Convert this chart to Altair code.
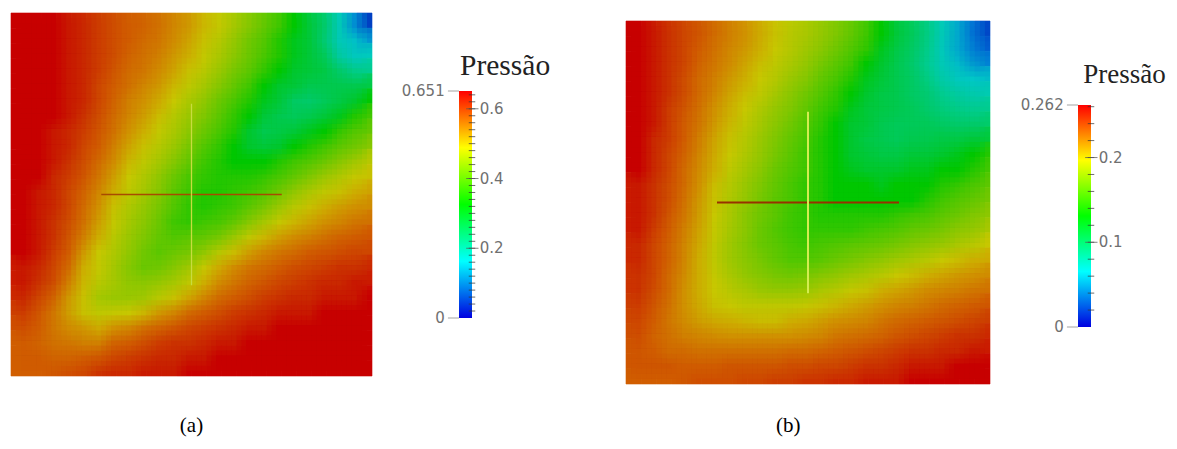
import altair as alt
import pandas as pd

title_text = "Pressão"
max_a = 0.651
max_b = 0.262
labels_a = [0.2, 0.4, 0.6]
labels_b = [0.1, 0.2]

# pressure, as percent of the panel's maximum, row by row from the top
grid_a = [
[100,100,100,99,98,96,94,92,91,89,86,83,78,74,68,62,57,53,50,47,42,30,16,5],
[100,100,100,99,98,96,94,92,90,88,85,81,76,71,65,59,55,51,49,47,41,30,24,17],
[100,100,100,99,98,96,94,91,89,87,83,79,74,69,63,58,54,51,49,47,44,34,28,28],
[100,100,100,99,98,96,93,90,88,85,81,76,72,66,60,56,52,50,48,47,46,42,38,37],
[100,100,100,99,98,95,92,89,86,83,78,73,68,62,57,53,50,48,47,45,45,45,45,46],
[100,100,100,99,98,95,91,87,84,80,75,69,64,58,54,51,49,47,43,42,44,46,48,50],
[100,100,100,99,97,94,90,86,82,77,71,66,61,56,52,50,47,45,44,45,47,49,51,53],
[100,100,99,98,96,93,89,84,79,74,69,63,58,54,51,48,45,46,47,49,50,52,55,57],
[100,100,99,98,95,92,87,81,76,71,66,60,55,52,50,48,47,48,50,51,53,56,59,62],
[100,100,99,97,94,90,85,78,73,68,62,57,53,51,50,50,50,51,53,55,58,62,67,71],
[100,100,98,96,93,88,82,75,70,64,58,54,52,51,51,51,52,54,57,61,66,70,74,76],
[100,99,98,95,91,86,79,73,68,62,56,53,51,51,52,53,55,59,64,69,73,76,79,81],
[100,99,98,95,90,84,76,70,65,60,55,52,51,52,53,56,60,66,72,76,79,82,84,85],
[100,99,97,94,89,82,74,68,63,58,53,52,53,54,57,62,68,74,78,81,84,86,88,89],
[100,99,97,93,87,79,72,66,61,57,55,56,57,60,66,73,78,82,85,87,89,91,92,93],
[100,99,96,92,83,75,70,64,59,56,58,60,64,71,77,82,86,88,90,92,93,94,95,95],
[99,98,95,90,79,74,68,62,58,59,62,67,74,80,85,88,90,92,94,95,96,97,97,98],
[99,97,94,87,78,72,68,64,63,65,68,73,79,85,88,91,93,95,96,97,98,98,99,99],
[98,95,91,83,76,68,66,66,67,72,76,81,86,90,92,94,96,97,98,98,99,99,99,100],
[96,93,88,82,76,73,74,75,78,83,86,90,92,94,96,97,98,99,99,99,100,100,100,100],
[94,92,88,85,83,80,84,86,89,91,93,95,96,97,98,99,99,100,100,100,100,100,100,100],
[92,91,89,88,87,87,91,92,94,96,97,97,98,99,99,100,100,100,100,100,100,100,100,100],
[92,92,91,91,92,93,95,96,97,98,98,99,99,100,100,100,100,100,100,100,100,100,100,100],
[92,92,93,94,95,97,98,98,99,99,99,100,100,100,100,100,100,100,100,100,100,100,100,100],
]
grid_b = [
[100,99,97,95,93,90,87,84,80,76,72,69,65,61,57,53,50,47,44,39,30,20,12,6],
[100,99,97,95,92,89,86,83,79,75,71,67,63,59,55,52,49,46,43,38,29,20,14,9],
[100,99,97,95,91,88,85,81,77,73,69,65,60,56,53,50,48,45,42,37,30,23,18,14],
[100,99,97,94,90,87,83,79,75,71,66,62,57,54,51,49,47,45,43,39,33,28,25,23],
[100,99,97,94,90,86,81,77,73,68,63,59,55,52,50,48,46,45,43,41,37,34,32,31],
[100,99,96,93,89,84,79,75,70,65,61,57,53,51,49,47,46,45,44,42,40,38,37,37],
[100,99,96,92,88,83,78,73,68,63,59,55,52,50,48,47,45,44,44,44,43,42,42,42],
[100,98,96,92,87,81,76,71,66,61,57,54,51,50,48,46,45,44,45,45,46,46,47,47],
[100,98,95,91,86,80,75,70,65,60,56,53,51,50,48,47,46,46,47,47,48,49,50,51],
[100,98,95,90,85,79,73,68,63,58,55,53,51,50,49,48,48,48,49,49,50,50,51,53],
[99,97,94,90,84,77,71,66,61,57,54,52,51,50,50,50,49,50,50,50,51,52,54,56],
[99,97,94,89,83,76,70,65,60,56,54,52,51,50,50,50,50,50,50,51,53,55,57,59],
[99,97,93,88,82,75,69,63,59,56,53,52,51,51,51,51,51,52,53,54,56,58,61,63],
[99,96,92,87,81,74,68,63,58,55,53,52,52,52,52,53,54,55,57,58,60,63,65,68],
[98,95,91,86,80,73,67,62,58,56,54,53,54,55,56,57,58,60,62,64,66,69,72,75],
[98,95,91,86,79,73,67,63,60,57,55,55,56,58,60,62,64,67,69,72,75,77,79,80],
[97,95,90,85,79,74,69,65,62,60,59,60,62,64,67,69,72,75,77,79,81,83,84,85],
[97,94,90,84,79,75,72,69,66,65,65,66,69,71,74,76,79,81,83,85,86,87,88,89],
[96,93,89,84,80,76,75,73,73,73,73,74,76,78,80,82,84,86,87,88,90,91,92,93],
[95,92,88,85,82,80,79,78,77,77,79,80,82,84,85,86,88,90,91,92,93,94,95,96],
[94,91,89,87,86,85,84,84,84,84,84,85,86,88,89,90,91,93,94,95,96,97,97,98],
[93,92,90,90,89,89,89,89,89,89,90,90,91,92,93,94,95,96,97,97,98,98,99,99],
[93,93,93,92,92,92,93,93,93,93,94,94,95,95,96,97,97,98,99,99,99,100,100,100],
[92,92,92,93,94,94,94,95,95,96,96,97,97,98,98,99,99,99,100,100,100,100,100,100],
]

MAP_COLORS = ["#0000a0", "#00c8c8", "#00c800", "#c8c800", "#c80000"]
BAR_STOPS = ["#0000e0", "#00ffff", "#00ff00", "#ffff00", "#ff0000"]
N = 24
SHIFTS = [0, 1 / 3, 2 / 3]  # the cells are redrawn with these shifts and fading opacity, which softens the mosaic


def cells(grid, top, dx, dy):
    rows = []
    for j, row in enumerate(grid):
        for i, v in enumerate(row):
            if dx and i == N - 1:
                continue
            if dy and j == N - 1:
                continue
            rows.append(dict(x=i + dx, x2=i + 1 + dx, y=j + dy, y2=j + 1 + dy, p=v * top / 100))
    return pd.DataFrame(rows)


def panel(grid, top, xr, yr, caption, cap_x, cap_y, line_w, h_color, v_color):
    xs = alt.Scale(domain=[0, N], range=xr)
    ys = alt.Scale(domain=[0, N], range=yr)
    cs = alt.Scale(domain=[i * top / 4 for i in range(5)], range=MAP_COLORS)
    out = []
    k = 0
    for dy in SHIFTS:
        for dx in SHIFTS:
            k += 1
            op = 1 / k
            mark = alt.Chart(cells(grid, top, dx, dy)).mark_rect(opacity=op, strokeWidth=0.6 if k == 1 else 0)
            enc = dict(
                x=alt.X("x:Q", scale=xs, axis=None), x2="x2:Q",
                y=alt.Y("y:Q", scale=ys, axis=None), y2="y2:Q",
                color=alt.Color("p:Q", scale=cs, legend=None),
            )
            if k == 1:
                enc["stroke"] = alt.Stroke("p:Q", scale=cs, legend=None)
            out.append(mark.encode(**enc))
    cross = pd.DataFrame([dict(a=6, b=18, c=12)])
    out.append(alt.Chart(cross).mark_rule(color=h_color, strokeWidth=line_w).encode(
        x=alt.X("a:Q", scale=xs, axis=None), x2="b:Q", y=alt.Y("c:Q", scale=ys, axis=None)))
    out.append(alt.Chart(cross).mark_rule(color=v_color, strokeWidth=line_w).encode(
        y=alt.Y("a:Q", scale=ys, axis=None), y2="b:Q", x=alt.X("c:Q", scale=xs, axis=None)))
    out.append(alt.Chart(pd.DataFrame([dict(t=caption, x=cap_x, y=cap_y)])).mark_text(
        font="Liberation Serif", fontSize=21, color="#000000").encode(
        x=alt.X("x:Q", scale=xs, axis=None), y=alt.Y("y:Q", scale=ys, axis=None), text="t:N"))
    return out


def colorbar(top, labels, xr, yr, top_label, title_x, title_y, title_size):
    xs = alt.Scale(domain=[0, 1], range=xr)
    ys = alt.Scale(domain=[0, top], range=yr)
    X = lambda f: alt.X(f, scale=xs, axis=None)
    Y = lambda f: alt.Y(f, scale=ys, axis=None)
    out = []
    grad = alt.Gradient(gradient="linear", x1=0, x2=0, y1=1, y2=0,
                        stops=[alt.GradientStop(color=c, offset=i / 4) for i, c in enumerate(BAR_STOPS)])
    out.append(alt.Chart(pd.DataFrame([dict(a=0, b=1, lo=0, hi=top)])).mark_rect(fill=grad).encode(
        x=X("a:Q"), x2="b:Q", y=Y("lo:Q"), y2="hi:Q"))
    minor = [round(i * 0.02, 2) for i in range(1, int(top / 0.02) + 1)]
    out.append(alt.Chart(pd.DataFrame(dict(v=minor, a=0.75, b=1.25))).mark_rule(color="#333333", strokeWidth=0.9, opacity=0.8).encode(
        x=X("a:Q"), x2="b:Q", y=Y("v:Q")))
    out.append(alt.Chart(pd.DataFrame(dict(v=labels, a=0.55, b=1.5))).mark_rule(color="#555555", strokeWidth=0.9, opacity=0.8).encode(
        x=X("a:Q"), x2="b:Q", y=Y("v:Q")))
    out.append(alt.Chart(pd.DataFrame(dict(v=[0, top], a=-0.85, b=0))).mark_rule(color="#999999", strokeWidth=0.9).encode(
        x=X("a:Q"), x2="b:Q", y=Y("v:Q")))
    out.append(alt.Chart(pd.DataFrame(dict(v=labels, t=[str(v) for v in labels], a=1.6))).mark_text(
        align="left", font="DejaVu Sans", fontSize=15, color="#707070").encode(
        x=X("a:Q"), y=Y("v:Q"), text="t:N"))
    out.append(alt.Chart(pd.DataFrame(dict(v=[0, top], t=["0", top_label], a=-1.1))).mark_text(
        align="right", font="DejaVu Sans", fontSize=15, color="#707070").encode(
        x=X("a:Q"), y=Y("v:Q"), text="t:N"))
    out.append(alt.Chart(pd.DataFrame([dict(t=title_text, x=title_x, y=title_y)])).mark_text(
        align="left", font="Liberation Serif", fontSize=title_size, color="#222222").encode(
        x=X("x:Q"), y=Y("y:Q"), text="t:N"))
    return out


layers = (
    panel(grid_a, max_a, [3, 364], [5, 368], "(a)", 12, 27.3, 1.3, "#a84a00", "#c8dc40")
    + colorbar(max_a, labels_a, [451, 464], [310, 83], "0.651", 0.08, 0.723, 29.5)
    + panel(grid_b, max_b, [618, 982], [13, 376], "(b)", 10.7, 26.8, 2, "#983000", "#d4ec50")
    + colorbar(max_b, labels_b, [1070, 1083], [319, 97], "0.262", 0.4, 0.297, 27)
)

chart = alt.layer(*layers).resolve_scale(
    x="independent", y="independent", color="independent", stroke="independent"
).properties(width=1161, height=433, padding=0, autosize="none", background="white").configure_view(stroke=None)

chart.save("out.html", embed_options={"renderer": "svg", "actions": False})
